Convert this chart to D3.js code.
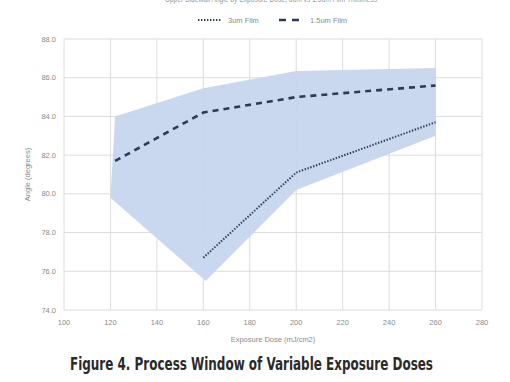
<!DOCTYPE html>
<html><head><meta charset="utf-8">
<script src="https://cdn.jsdelivr.net/npm/d3@7"></script>
<style>
html,body{margin:0;padding:0;background:#fff;}
svg{display:block;}
</style></head>
<body>
<svg id="c" width="510" height="382"></svg>
<script>
// ---- data ----
const xTicks = [100,120,140,160,180,200,220,240,260,280];
const yTicks = [74,76,78,80,82,84,86,88];
const bandUpperDose = [122,160,200,260];
const bandUpper     = [84.0,85.45,86.35,86.5];
const bandLowerDose = [120,161,200,260];
const bandLower     = [79.8,75.5,80.2,83.0];
const film3Dose  = [160,200,260];
const film3Angle = [76.7,81.1,83.7];
const film15Dose  = [122,160,200,260];
const film15Angle = [81.7,84.2,85.0,85.6];
const seriesNames = ["3um Film","1.5um Film"];

const svg = d3.select("#c");
const L=64,R=482,T=39,B=310;
const x = d3.scaleLinear().domain([100,280]).range([L,R]);
const y = d3.scaleLinear().domain([74,88]).range([B,T]);
const gridCol="#dcdcdc", tickCol="#8a8a8a", lineCol="#2b3a58";
const tf="Liberation Sans, Arial, sans-serif";

// cut-off title at very top (clipped in the reference too)
svg.append("text").attr("x",165).attr("y",2)
  .attr("textLength",212).attr("lengthAdjust","spacingAndGlyphs")
  .attr("font-family",tf).attr("font-size",9).attr("fill","#9a9a9a")
  .text("Upper Sidewall Angle by Exposure Dose, 3um vs 1.5um Film Thickness");

// grid
svg.append("g").selectAll("line").data(xTicks).join("line")
  .attr("x1",d=>x(d)).attr("x2",d=>x(d)).attr("y1",T).attr("y2",B)
  .attr("stroke",gridCol).attr("stroke-width",1);
svg.append("g").selectAll("line").data(yTicks).join("line")
  .attr("x1",L).attr("x2",R).attr("y1",d=>y(d)).attr("y2",d=>y(d))
  .attr("stroke",gridCol).attr("stroke-width",1);

// band
const bandPts = bandUpperDose.map((d,i)=>[x(d),y(bandUpper[i])])
  .concat(bandLowerDose.map((d,i)=>[x(d),y(bandLower[i])]).reverse());
svg.append("path").attr("d","M"+bandPts.map(p=>p.join(",")).join("L")+"Z")
  .attr("fill","#c5d5ee").attr("fill-opacity",0.92);

// lines
const line = d3.line().x(d=>x(d[0])).y(d=>y(d[1]));
svg.append("path").datum(film15Dose.map((d,i)=>[d,film15Angle[i]]))
  .attr("d",line).attr("fill","none").attr("stroke",lineCol)
  .attr("stroke-width",2.6).attr("stroke-dasharray","6,5");
svg.append("path").datum(film3Dose.map((d,i)=>[d,film3Angle[i]]))
  .attr("d",line).attr("fill","none").attr("stroke",lineCol)
  .attr("stroke-width",2).attr("stroke-dasharray","1.4,1.6");

// axes labels
svg.append("g").selectAll("text").data(yTicks).join("text")
  .attr("x",56).attr("y",d=>y(d)+2.5).attr("text-anchor","end")
  .attr("font-family",tf).attr("font-size",7.5).attr("fill",tickCol)
  .text(d=>d3.format(".1f")(d));
svg.append("g").selectAll("text").data(xTicks).join("text")
  .attr("x",d=>x(d)).attr("y",324.5).attr("text-anchor","middle")
  .attr("font-family",tf).attr("font-size",7.5).attr("fill",tickCol)
  .text(d=>d);
svg.append("text").attr("transform","translate(30,"+((T+B)/2)+") rotate(-90)")
  .attr("text-anchor","middle").attr("font-family",tf).attr("font-size",7.5).attr("fill","#8a8a8a")
  .text("Angle (degrees)");
svg.append("text").attr("x",(L+R)/2).attr("y",341.5).attr("text-anchor","middle")
  .attr("font-family",tf).attr("font-size",7.5).attr("fill","#8a8a8a")
  .text("Exposure Dose (mJ/cm2)");

// legend
const lg = svg.append("g");
lg.append("line").attr("x1",198).attr("x2",222).attr("y1",20).attr("y2",20)
  .attr("stroke",lineCol).attr("stroke-width",2).attr("stroke-dasharray","1.4,1.6");
lg.append("text").attr("x",228).attr("y",22.5).attr("font-family",tf).attr("font-size",7.5)
  .attr("fill","#8a8a8a").text(seriesNames[0]);
lg.append("line").attr("x1",279).attr("x2",300).attr("y1",20).attr("y2",20)
  .attr("stroke",lineCol).attr("stroke-width",2.6).attr("stroke-dasharray","7,6");
lg.append("text").attr("x",310).attr("y",22.5).attr("font-family",tf).attr("font-size",7.5)
  .attr("fill","#8a8a8a").text(seriesNames[1]);

// caption
svg.append("text").attr("x",70).attr("y",370)
  .attr("textLength",363).attr("lengthAdjust","spacingAndGlyphs")
  .attr("font-family","DejaVu Sans Condensed, DejaVu Sans, sans-serif")
  .attr("font-weight","bold").attr("font-size",17).attr("fill","#2a2a2a")
  .text("Figure 4. Process Window of Variable Exposure Doses");
</script>
</body></html>
